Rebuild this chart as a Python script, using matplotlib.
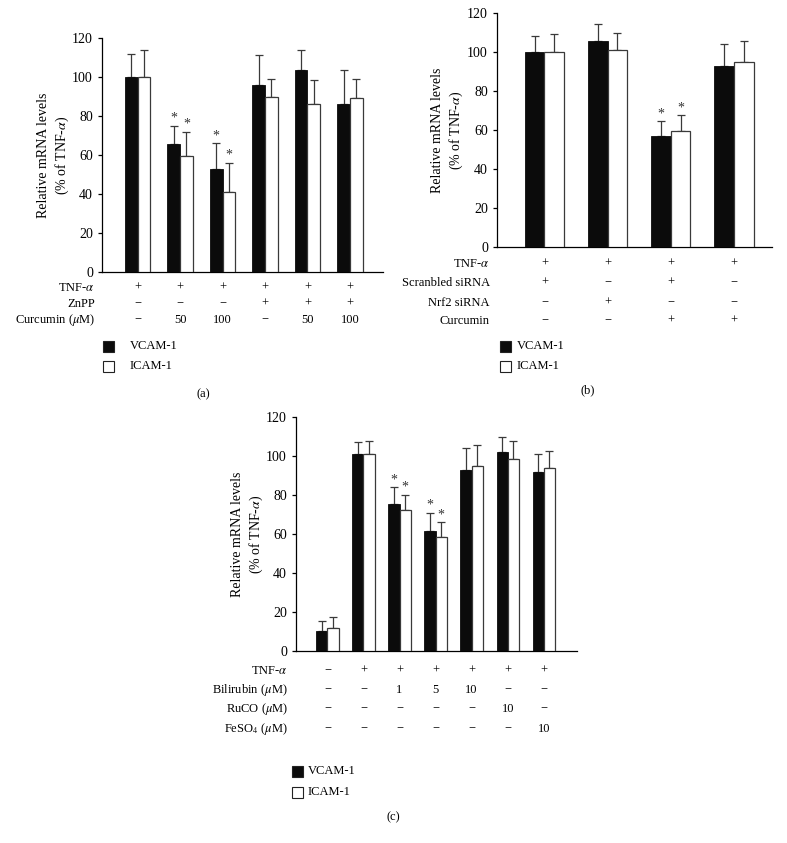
import matplotlib
matplotlib.use("Agg")
import matplotlib.pyplot as plt
import matplotlib.transforms as mtransforms
import numpy as np

plt.rcParams.update({
    "font.family": "Liberation Serif",
    "mathtext.fontset": "stix",
    "font.size": 9,
    "axes.linewidth": 0.9,
    "ytick.major.size": 3,
    "ytick.major.width": 0.9,
    "ytick.labelsize": 10,
})

W, H = 787, 843
BLACK, EDGE = "#0b0b0b", "#3a3a3a"
M = "\u2212"

# ── panel (a): ZnPP / curcumin ──
a_vcam = [100, 65.5, 53, 96, 103.5, 86]
a_vcam_err = [12, 9.5, 13, 15.5, 10.5, 17.5]
a_icam = [100, 59.5, 41, 90, 86, 89]
a_icam_err = [14, 12.5, 15, 9, 12.5, 10]
a_star = [False, True, True, False, False, False]
a_rows = [r"TNF-$\alpha$", "ZnPP", r"Curcumin ($\mu$M)"]
a_table = [["+"] * 6,
           [M, M, M, "+", "+", "+"],
           [M, "50", "100", M, "50", "100"]]

# ── panel (b): Nrf2 siRNA ──
b_vcam = [100, 105.5, 57, 93]
b_vcam_err = [8, 9, 7.5, 11]
b_icam = [100, 101, 59.5, 95]
b_icam_err = [9, 8.5, 8, 10.5]
b_star = [False, False, True, False]
b_rows = [r"TNF-$\alpha$", "Scranbled siRNA", "Nrf2 siRNA", "Curcumin"]
b_table = [["+"] * 4,
           ["+", M, "+", M],
           [M, "+", M, M],
           [M, M, "+", "+"]]

# ── panel (c): bilirubin / RuCO / FeSO4 ──
c_vcam = [10.5, 101, 75.5, 61.5, 93, 102, 92]
c_vcam_err = [5, 6, 8.5, 9.5, 11, 7.5, 9]
c_icam = [12, 101, 72.5, 58.5, 95, 98.5, 94]
c_icam_err = [5.5, 6.5, 7.5, 7.5, 10.5, 9, 8.5]
c_star = [False, False, True, True, False, False, False]
c_rows = [r"TNF-$\alpha$", r"Bilirubin ($\mu$M)", r"RuCO ($\mu$M)", r"FeSO$_4$ ($\mu$M)"]
c_table = [[M, "+", "+", "+", "+", "+", "+"],
           [M, M, "1", "5", "10", M, M],
           [M, M, M, M, M, "10", M],
           [M, M, M, M, M, M, "10"]]

fig = plt.figure(figsize=(W / 100, H / 100), dpi=100)


def fx(px):
    return px / W


def fy(py):
    return 1 - py / H


def panel(box, xlim, width, vcam, verr, icam, ierr, star, rows, table, row_y,
          label_x, ylab_x, leg, tag):
    left, right, top, bottom = box
    ax = fig.add_axes([fx(left), fy(bottom), fx(right - left), (bottom - top) / H])
    x = np.arange(len(vcam))
    ax.bar(x - width / 2, vcam, width, color=BLACK, edgecolor=BLACK, linewidth=0.6, zorder=3)
    ax.bar(x + width / 2, icam, width, color="white", edgecolor=EDGE, linewidth=0.9, zorder=3)
    ax.errorbar(x - width / 2, vcam, yerr=[np.zeros(len(x)), verr], fmt="none",
                ecolor=EDGE, elinewidth=0.9, capsize=2.6, capthick=0.9, zorder=2)
    ax.errorbar(x + width / 2, icam, yerr=[np.zeros(len(x)), ierr], fmt="none",
                ecolor=EDGE, elinewidth=0.9, capsize=2.6, capthick=0.9, zorder=2)
    for i, s in enumerate(star):
        if s:
            ax.text(i - width / 2, vcam[i] + verr[i] + 0.5, "*", ha="center", va="bottom",
                    fontsize=10, color="#333333")
            ax.text(i + width / 2, icam[i] + ierr[i] + 0.5, "*", ha="center", va="bottom",
                    fontsize=10, color="#333333")
    ax.set_xlim(*xlim)
    ax.set_ylim(0, 120)
    ax.set_yticks(range(0, 121, 20))
    ax.set_xticks([])
    for s in ("top", "right"):
        ax.spines[s].set_visible(False)
    fig.text(fx(ylab_x), fy((top + bottom) / 2), "Relative mRNA levels\n" + r"(% of TNF-$\alpha$)",
             rotation=90, ha="center", va="center", fontsize=10, linespacing=1.25)

    tr = mtransforms.blended_transform_factory(ax.transData, fig.transFigure)
    for r, (name, vals) in enumerate(zip(rows, table)):
        fig.text(fx(label_x), fy(row_y[r]), name, ha="right", va="center")
        for i, v in enumerate(vals):
            ax.text(i, fy(row_y[r]), v, transform=tr, ha="center", va="center")

    sq_x, txt_x, ys, tag_x, tag_y = leg
    for yy, fc, name in zip(ys, [BLACK, "white"], ["VCAM-1", "ICAM-1"]):
        fig.patches.append(plt.Rectangle((fx(sq_x), fy(yy + 5.5)), fx(11), 11 / H,
                                         facecolor=fc, edgecolor="#222222", linewidth=0.8,
                                         transform=fig.transFigure, figure=fig))
        fig.text(fx(txt_x), fy(yy), name, ha="left", va="center")
    fig.text(fx(tag_x), fy(tag_y), tag, ha="center", va="center")
    return ax


panel((102, 383, 38, 272), (-0.84, 5.78), 0.30,
      a_vcam, a_vcam_err, a_icam, a_icam_err, a_star, a_rows, a_table,
      [288, 304, 320], 95, 54, (103, 130, [346, 366], 203, 394), "(a)")

panel((497, 772, 13, 247), (-0.75, 3.6), 0.31,
      b_vcam, b_vcam_err, b_icam, b_icam_err, b_star, b_rows, b_table,
      [264, 283, 303, 321], 490, 448, (500, 517, [346, 366], 588, 390), "(b)")

panel((296, 577, 417, 651), (-0.87, 6.92), 0.31,
      c_vcam, c_vcam_err, c_icam, c_icam_err, c_star, c_rows, c_table,
      [671, 690, 709, 729], 288, 248, (292, 308, [771, 792], 393, 817), "(c)")

fig.savefig("out.png", dpi=100)
